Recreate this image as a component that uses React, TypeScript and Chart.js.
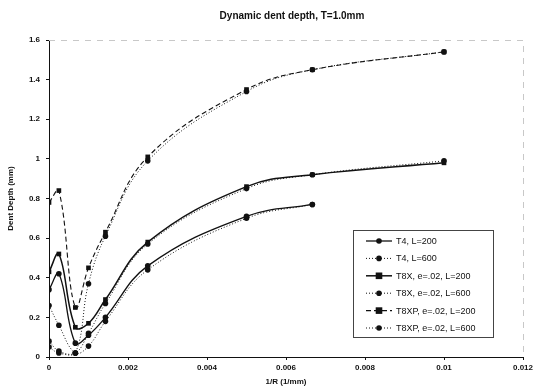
import React, { useEffect, useRef } from "react";
import { Chart, registerables } from "chart.js";

Chart.register(...registerables);

const titleText = "Dynamic dent depth, T=1.0mm";
const xAxisTitle = "1/R (1/mm)";
const yAxisTitle = "Dent Depth (mm)";

const curvature = [0, 0.00025, 0.000667, 0.001, 0.001429, 0.0025, 0.005, 0.006667, 0.01];

const t4L200 = [0.34, 0.42, 0.07, 0.11, 0.2, 0.46, 0.71, 0.77, null];
const t4L600 = [0.26, 0.16, 0.02, 0.055, 0.18, 0.44, 0.7, 0.77, null];
const t8xL200 = [0.43, 0.52, 0.15, 0.17, 0.29, 0.58, 0.86, 0.92, 0.98];
const t8xL600 = [0.08, 0.03, 0.02, 0.12, 0.27, 0.57, 0.85, 0.92, 0.99];
const t8xpL200 = [0.78, 0.84, 0.25, 0.45, 0.63, 1.01, 1.35, 1.45, 1.54];
const t8xpL600 = [0.05, 0.02, 0.02, 0.37, 0.61, 0.99, 1.34, 1.45, 1.54];

const seriesNames = [
  "T4, L=200",
  "T4, L=600",
  "T8X, e=.02, L=200",
  "T8X, e=.02, L=600",
  "T8XP, e=.02, L=200",
  "T8XP, e=.02, L=600",
];

const xTickLabels = ["0", "0.002", "0.004", "0.006", "0.008", "0.01", "0.012"];
const yTickLabels = ["0", "0.2", "0.4", "0.6", "0.8", "1", "1.2", "1.4", "1.6"];

const FONT = '"Liberation Sans", Arial, sans-serif';

function toPoints(vals: (number | null)[]) {
  const out: { x: number; y: number }[] = [];
  vals.forEach((v, i) => {
    if (v !== null) out.push({ x: curvature[i], y: v });
  });
  return out;
}

const styles = [
  { dash: [] as number[], point: "circle", r: 2.8, w: 1.3 },
  { dash: [1, 2], point: "circle", r: 2.8, w: 1 },
  { dash: [] as number[], point: "rect", r: 3.3, w: 1.5 },
  { dash: [1, 2], point: "circle", r: 2.8, w: 1 },
  { dash: [5, 3], point: "rect", r: 3.3, w: 1.1 },
  { dash: [1, 2], point: "circle", r: 2.8, w: 1 },
];

const overlayPlugin = {
  id: "overlay",
  afterDraw(chart: any) {
    const ctx = chart.ctx;
    const area = chart.chartArea;
    ctx.save();
    // faint plot border (top/right)
    ctx.strokeStyle = "#c8c8c8";
    ctx.lineWidth = 1;
    ctx.setLineDash([6, 6]);
    ctx.beginPath();
    ctx.moveTo(area.left, area.top + 0.5);
    ctx.lineTo(area.right + 0.5, area.top + 0.5);
    ctx.lineTo(area.right + 0.5, area.bottom);
    ctx.stroke();
    ctx.setLineDash([]);

    // title
    ctx.fillStyle = "#111";
    ctx.font = "bold 10px " + FONT;
    ctx.textAlign = "center";
    ctx.textBaseline = "middle";
    ctx.fillText(titleText, 292, 16);

    // legend
    const bx = 353, by = 230, bw = 140, bh = 107;
    ctx.fillStyle = "#fff";
    ctx.fillRect(bx, by, bw, bh);
    ctx.strokeStyle = "#444";
    ctx.lineWidth = 1;
    ctx.strokeRect(bx + 0.5, by + 0.5, bw, bh);
    ctx.font = "9px " + FONT;
    ctx.textAlign = "left";
    chart.data.datasets.forEach((ds: any, i: number) => {
      const y = by + 11 + i * 17.4;
      const st = styles[i];
      ctx.strokeStyle = "#111";
      ctx.lineWidth = st.w;
      ctx.setLineDash(st.dash);
      ctx.beginPath();
      ctx.moveTo(366, y);
      ctx.lineTo(392, y);
      ctx.stroke();
      ctx.setLineDash([]);
      ctx.fillStyle = "#111";
      if (st.point === "rect") {
        ctx.fillRect(379 - st.r, y - st.r, st.r * 2, st.r * 2);
      } else {
        ctx.beginPath();
        ctx.arc(379, y, st.r, 0, Math.PI * 2);
        ctx.fill();
      }
      ctx.fillText(ds.label, 396, y + 0.5);
    });
    ctx.restore();
  },
};

export default function App() {
  const ref = useRef<HTMLCanvasElement | null>(null);

  useEffect(() => {
    document.body.style.margin = "0";
    const seriesVals = [t4L200, t4L600, t8xL200, t8xL600, t8xpL200, t8xpL600];
    const datasets = seriesVals.map((vals, i) => ({
      label: seriesNames[i],
      data: toPoints(vals),
      showLine: true,
      borderColor: "#111",
      backgroundColor: "#111",
      borderWidth: styles[i].w,
      borderDash: styles[i].dash,
      pointStyle: styles[i].point,
      pointRadius: styles[i].r,
      pointBorderWidth: 0,
      tension: 0.4,
    }));
    const chart = new Chart(ref.current as HTMLCanvasElement, {
      type: "scatter",
      data: { datasets },
      options: {
        animation: false,
        responsive: false,
        layout: { padding: { top: 40, right: 27, left: 0, bottom: 0 } },
        plugins: {
          legend: { display: false },
          title: { display: false },
          tooltip: { enabled: false },
        },
        scales: {
          x: {
            type: "linear",
            min: 0,
            max: 0.012,
            afterFit: (s: any) => {
              s.height = 30;
            },
            border: { display: true, color: "#111", width: 1 },
            grid: { display: true, drawOnChartArea: false, drawTicks: true, tickLength: 3, color: "#111" },
            ticks: {
              stepSize: 0.002,
              padding: 3,
              color: "#111",
              font: { family: FONT, size: 8, weight: "bold" },
              callback: (_v: any, i: number) => xTickLabels[i],
            },
            title: {
              display: true,
              text: xAxisTitle,
              color: "#111",
              font: { family: FONT, size: 8, weight: "bold" },
              padding: { top: 0, bottom: 0 },
            },
          },
          y: {
            type: "linear",
            min: 0,
            max: 1.6,
            afterFit: (s: any) => {
              s.width = 49;
            },
            border: { display: true, color: "#111", width: 1 },
            grid: { display: true, drawOnChartArea: false, drawTicks: true, tickLength: 3, color: "#111" },
            ticks: {
              stepSize: 0.2,
              padding: 6,
              color: "#111",
              font: { family: FONT, size: 8, weight: "bold" },
              callback: (_v: any, i: number) => yTickLabels[i],
            },
            title: {
              display: true,
              text: yAxisTitle,
              color: "#111",
              font: { family: FONT, size: 8, weight: "bold" },
              padding: { top: 6, bottom: 0 },
            },
          },
        },
      },
      plugins: [overlayPlugin],
    } as any);
    return () => chart.destroy();
  }, []);

  return <canvas ref={ref} width={550} height={387} style={{ display: "block" }} />;
}
